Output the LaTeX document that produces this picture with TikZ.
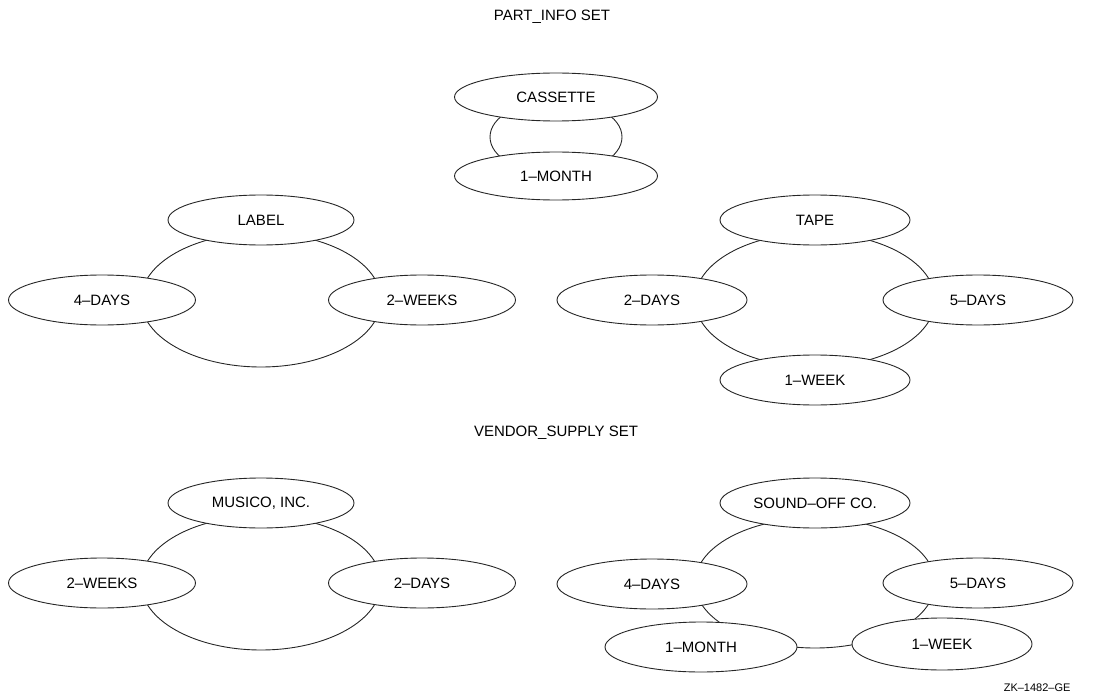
\documentclass[tikz,border=0pt]{standalone}
\usepackage{fontspec}
\setmainfont{Liberation Sans}
\usetikzlibrary{shapes.geometric}
\begin{document}
\begin{tikzpicture}[x=1pt,y=-1pt,
  rec/.style={ellipse,draw=black!85,line width=0.9pt,fill=white,inner sep=0pt,
    minimum width=190pt,minimum height=50pt,font=\fontsize{15}{18}\selectfont},
  ring/.style={ellipse,draw=black!85,line width=0.9pt,inner sep=0pt,
    minimum width=240pt,minimum height=134pt},
  title/.style={font=\fontsize{15}{18}\selectfont}]
\useasboundingbox (0,0) rectangle (1100,698);
% titles
\node[title] (t1) at (552,17) {PART\_INFO SET};
\node[title] (t2) at (556,433) {VENDOR\_SUPPLY SET};
\node[font=\fontsize{11}{13}\selectfont,anchor=east] (zk) at (1074,688) {ZK–1482–GE};
% rings (set occurrences)
\node[ring,minimum width=132pt,minimum height=74pt] (r0) at (556,137) {};
\node[ring] (r1) at (261,300) {};
\node[ring] (r2) at (815,300) {};
\node[ring] (r3) at (261,583) {};
\node[ring,minimum height=130pt] (r4) at (815,583) {};
% PART_INFO: CASSETTE
\node[rec,minimum width=203pt,minimum height=48pt] (cas) at (556,97) {CASSETTE};
\node[rec,minimum width=203pt,minimum height=48pt] (mon1) at (556,176) {1–MONTH};
% LABEL
\node[rec,minimum width=186pt] (lab) at (261,220) {LABEL};
\node[rec,minimum width=187pt] (d4a) at (102,300) {4–DAYS};
\node[rec,minimum width=187pt] (w2a) at (422,300) {2–WEEKS};
% TAPE
\node[rec] (tape) at (815,220) {TAPE};
\node[rec] (d2a) at (652,300) {2–DAYS};
\node[rec] (d5a) at (978,300) {5–DAYS};
\node[rec] (wk1a) at (815,380) {1–WEEK};
% MUSICO
\node[rec,minimum width=186pt] (mus) at (261,503) {MUSICO, INC.};
\node[rec,minimum width=187pt] (w2b) at (102,583) {2–WEEKS};
\node[rec,minimum width=187pt] (d2b) at (422,583) {2–DAYS};
% SOUND-OFF
\node[rec] (snd) at (815,503) {SOUND–OFF CO.};
\node[rec] (d4b) at (652,584) {4–DAYS};
\node[rec] (d5b) at (978,583) {5–DAYS};
\node[rec,minimum width=192pt] (mon2) at (701,647) {1–MONTH};
\node[rec,minimum width=180pt,minimum height=52pt] (wk1b) at (942,644) {1–WEEK};
\end{tikzpicture}
\end{document}
